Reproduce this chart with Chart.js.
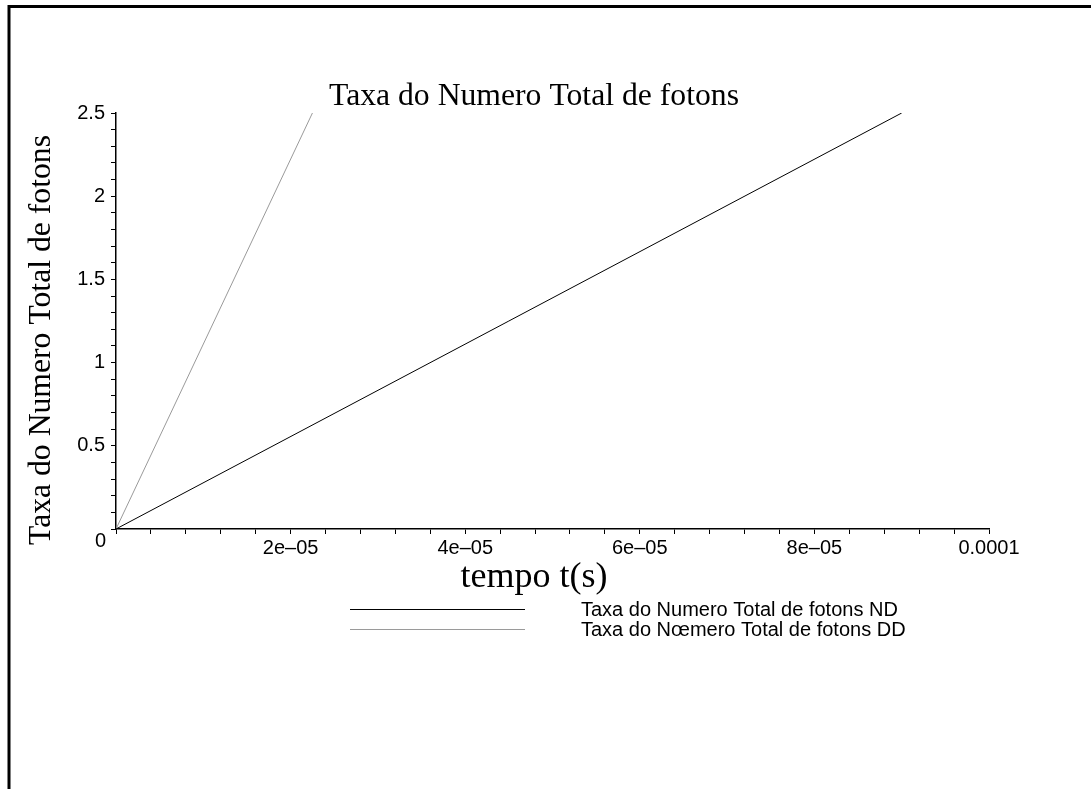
<!DOCTYPE html>
<html>
<head>
<meta charset="utf-8">
<script src="https://cdn.jsdelivr.net/npm/chart.js@4"></script>
<style>
  html, body { margin: 0; padding: 0; background: #fff; overflow: hidden; }
  canvas { display: block; }
</style>
</head>
<body>
<canvas id="myChart" width="1091" height="789"></canvas>
<script>
const titleText = "Taxa do Numero Total de fotons"
const xTitle = "tempo t(s)"
const yTitle = "Taxa do Numero Total de fotons"
const legendLabels = ["Taxa do Numero Total de fotons ND", "Taxa do N\u0153mero Total de fotons DD"]
const timeND = [0, 9.0e-5]
const rateND = [0, 2.5]
const timeDD = [0, 2.25e-5]
const rateDD = [0, 2.5]
const xMajor = [2e-5, 4e-5, 6e-5, 8e-5, 1e-4]
const xMajorLabels = ["2e\u201305", "4e\u201305", "6e\u201305", "8e\u201305", "0.0001"]
const yMajor = [0.5, 1, 1.5, 2, 2.5]
const yMajorLabels = ["0.5", "1", "1.5", "2", "2.5"]
const lineColors = ["#000000", "#9a9a9a"]

const SANS = "'Liberation Sans', Arial, sans-serif"
const SERIF = "'Liberation Serif', 'Times New Roman', serif"

function majorLabel(v, majors, labels, step) {
    for (let i = 0; i < majors.length; i++) {
        if (Math.abs(v - majors[i]) < step / 10) return labels[i]
    }
    return ""
}

// title, axis titles, legend, origin label and frame
const extras = {
    id: "extras",
    afterDraw(chart) {
        const ctx = chart.ctx
        const ca = chart.chartArea
        const xs = chart.scales.x
        const ys = chart.scales.y
        ctx.save()
        ctx.fillStyle = "#000"

        ctx.font = "31.7px " + SERIF
        ctx.textAlign = "center"
        ctx.textBaseline = "alphabetic"
        ctx.fillText(titleText, ca.left + 418, ca.top - 8)

        ctx.save()
        ctx.translate(ca.left - 74, (ca.top + ca.bottom) / 2 + 19)
        ctx.rotate(-Math.PI / 2)
        ctx.textBaseline = "middle"
        ctx.fillText(yTitle, 0, 0)
        ctx.restore()

        ctx.font = "36px " + SERIF
        ctx.textBaseline = "middle"
        ctx.fillText(xTitle, ca.left + 418, ca.bottom + 49)

        // origin label
        ctx.font = "20px " + SANS
        ctx.textAlign = "right"
        ctx.fillText("0", xs.getPixelForValue(0) - 10, ys.getPixelForValue(0) + 12)

        // legend
        ctx.textAlign = "left"
        chart.data.datasets.forEach((ds, i) => {
            const y = ca.bottom + 80 + i * 20
            ctx.strokeStyle = ds.borderColor
            ctx.lineWidth = 1
            ctx.beginPath()
            ctx.moveTo(350, y + 0.5)
            ctx.lineTo(525, y + 0.5)
            ctx.stroke()
            ctx.fillText(ds.label, 581, y + 1)
        })

        // frame
        ctx.strokeStyle = "#000"
        ctx.lineWidth = 3
        ctx.beginPath()
        ctx.moveTo(9, chart.height)
        ctx.lineTo(9, 6.5)
        ctx.lineTo(chart.width, 6.5)
        ctx.stroke()
        ctx.restore()
    }
}

new Chart("myChart", {
    type: "line",
    data: {
        datasets: [{
            label: legendLabels[0],
            data: timeND.map((t, i) => ({x: t, y: rateND[i]})),
            borderColor: lineColors[0],
            backgroundColor: lineColors[0],
            borderWidth: 1,
            pointRadius: 0,
            fill: false,
            tension: 0
        }, {
            label: legendLabels[1],
            data: timeDD.map((t, i) => ({x: t, y: rateDD[i]})),
            borderColor: lineColors[1],
            backgroundColor: lineColors[1],
            borderWidth: 1,
            pointRadius: 0,
            fill: false,
            tension: 0
        }]
    },
    options: {
        responsive: false,
        animation: false,
        layout: {padding: {left: 66, right: 102, top: 113, bottom: 220}},
        plugins: {
            legend: {display: false},
            title: {display: false},
            tooltip: {enabled: false}
        },
        scales: {
            x: {
                type: "linear",
                min: 0,
                max: 1e-4,
                afterFit: s => { s.height = 40 },
                border: {display: true, color: "#000", width: 1.5},
                grid: {display: true, drawOnChartArea: false, drawTicks: true, tickLength: 5, color: "#000"},
                ticks: {
                    stepSize: 4e-6,
                    autoSkip: false,
                    maxRotation: 0,
                    padding: 2,
                    color: "#000",
                    font: {family: SANS, size: 20},
                    callback: v => majorLabel(v, xMajor, xMajorLabels, 4e-6)
                }
            },
            y: {
                type: "linear",
                min: 0,
                max: 2.5,
                afterFit: s => { s.width = 50 },
                border: {display: true, color: "#000", width: 1.5},
                grid: {display: true, drawOnChartArea: false, drawTicks: true, tickLength: 5, color: "#000"},
                ticks: {
                    stepSize: 0.1,
                    autoSkip: false,
                    padding: 6,
                    color: "#000",
                    font: {family: SANS, size: 20},
                    callback: v => majorLabel(v, yMajor, yMajorLabels, 0.1)
                }
            }
        }
    },
    plugins: [extras]
});
</script>
</body>
</html>
